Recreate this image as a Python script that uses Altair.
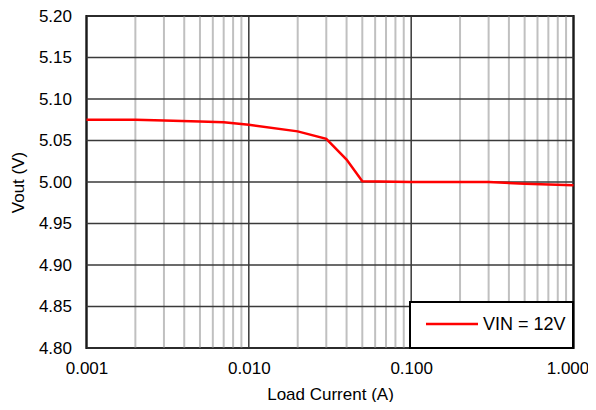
import altair as alt
import pandas as pd

# Data
current = [0.001, 0.002, 0.003, 0.005, 0.007, 0.01, 0.02, 0.03, 0.04, 0.05, 0.1, 0.2, 0.3, 0.5, 1.0]
vout = [5.075, 5.075, 5.074, 5.073, 5.072, 5.069, 5.061, 5.052, 5.027, 5.001, 5.000, 5.000, 5.000, 4.998, 4.996]
series_name = "VIN = 12V"

x_major = [0.001, 0.01, 0.1, 1.0]
x_minor = [m * d for d in [0.001, 0.01, 0.1] for m in range(2, 10)]
y_ticks = [4.80, 4.85, 4.90, 4.95, 5.00, 5.05, 5.10, 5.15, 5.20]

FONT = "Liberation Sans"
W, H = 487, 332

xscale = alt.Scale(type="log", domain=[0.001, 1.0])
yscale = alt.Scale(domain=[4.80, 5.20], zero=False, nice=False)

xaxis = alt.Axis(
    values=x_major, format=".3f", title="Load Current (A)",
    grid=False, ticks=False, domain=False,
    labelFont=FONT, labelFontSize=17, labelColor="#000",
    labelPadding=12, labelFlush=False,
    labelOffset={"expr": "datum.value >= 1 ? -6 : 0"},
    titleFont=FONT, titleFontSize=17, titleFontWeight="normal",
    titleColor="#000", titlePadding=10,
)
yaxis = alt.Axis(
    values=y_ticks, format=".2f", title="Vout (V)",
    grid=False, ticks=False, domain=False,
    labelFont=FONT, labelFontSize=17, labelColor="#000",
    labelPadding=15,
    titleFont=FONT, titleFontSize=17, titleFontWeight="normal",
    titleColor="#000", titlePadding=11,
)

df = pd.DataFrame({"current": current, "vout": vout})

minor = alt.Chart(pd.DataFrame({"current": x_minor})).mark_rule(
    color="#c0c0c0", strokeWidth=2
).encode(x=alt.X("current:Q", scale=xscale, axis=xaxis))

major = alt.Chart(pd.DataFrame({"current": x_major})).mark_rule(
    color="#1a1a1a", strokeWidth=1.3
).encode(x=alt.X("current:Q", scale=xscale, axis=xaxis))

hgrid = alt.Chart(pd.DataFrame({"vout": y_ticks})).mark_rule(
    color="#3a3a3a", strokeWidth=1.3
).encode(y=alt.Y("vout:Q", scale=yscale, axis=yaxis))

line = alt.Chart(df).mark_line(color="#ff0000", strokeWidth=2.5).encode(
    x=alt.X("current:Q", scale=xscale, axis=xaxis),
    y=alt.Y("vout:Q", scale=yscale, axis=yaxis),
)

one = pd.DataFrame({"a": [0]})
leg_box = alt.Chart(one).mark_rect(
    fill="white", stroke="black", strokeWidth=2
).encode(
    x=alt.value(323.5), x2=alt.value(486.5), y=alt.value(286), y2=alt.value(332)
)
leg_line = alt.Chart(one).mark_rule(color="#ff0000", strokeWidth=2.5).encode(
    x=alt.value(339.5), x2=alt.value(391.5), y=alt.value(308)
)
leg_text = alt.Chart(pd.DataFrame({"t": [series_name]})).mark_text(
    align="left", baseline="middle", font=FONT, fontSize=18, color="#000"
).encode(x=alt.value(396.5), y=alt.value(308.5), text="t:N")

chart = alt.layer(minor, major, hgrid, line, leg_box, leg_line, leg_text).properties(
    width=W, height=H,
    autosize=alt.AutoSizeParams(type="none"),
    padding={"left": 78.5, "top": 8, "right": 14.5, "bottom": 54},
    background="white",
).configure_view(stroke="black", strokeWidth=2.2)

chart.save("out.html", embed_options={"renderer": "svg", "actions": False})
